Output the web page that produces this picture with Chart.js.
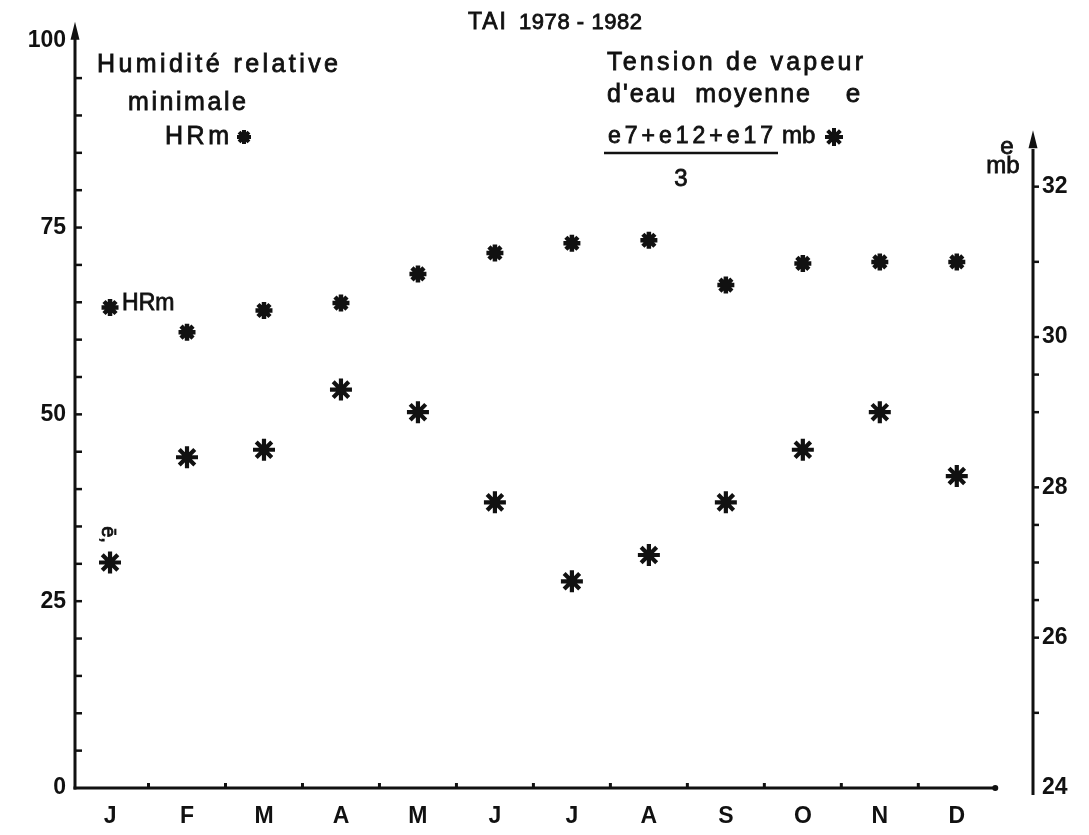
<!DOCTYPE html>
<html>
<head>
<meta charset="utf-8">
<title>TAI 1978-1982</title>
<script src="https://cdn.jsdelivr.net/npm/chart.js@4.4.1/dist/chart.umd.min.js"></script>
<style>
  html, body { margin: 0; background: #fff; }
  canvas { display: block; }
</style>
</head>
<body>
<canvas id="chart" width="1089" height="835"></canvas>
<script>
// valeurs (TAI 1978-1982)
const months = ['J', 'F', 'M', 'A', 'M', 'J', 'J', 'A', 'S', 'O', 'N', 'D'];
const hrMin = [64.3, 61.0, 63.9, 64.9, 68.8, 71.6, 72.9, 73.3, 67.3, 70.2, 70.4, 70.4];
const vapour = [27.0, 28.4, 28.5, 29.3, 29.0, 27.8, 26.75, 27.1, 27.8, 28.5, 29.0, 28.15];

const hrTicks = [0, 25, 50, 75, 100];
const hrMinorTicks = [5, 10, 15, 20, 25, 30, 35, 40, 45, 50, 55, 60, 65, 70, 75, 80, 85, 90, 95];
const eTicks = [24, 26, 28, 30, 32];
const eMinorTicks = [25, 26, 26.5, 27, 27.5, 28, 29, 29.5, 30, 31, 32];

const ink = '#111';
const labelFont = { family: '"Liberation Sans", Arial, sans-serif', size: 23, weight: 'bold' };

// texte un peu espacé, comme sur l'original
function fitText(ctx, str, x0, x1, base, size) {
    ctx.font = size + 'px "Liberation Sans", Arial, sans-serif';
    ctx.letterSpacing = '0px';
    const w = ctx.measureText(str).width;
    const sp = str.length > 1 ? (x1 - x0 - w) / (str.length - 1) : 0;
    ctx.letterSpacing = Math.max(0, sp) + 'px';
    ctx.textAlign = 'left';
    ctx.textBaseline = 'alphabetic';
    ctx.fillText(str, x0, base);
    ctx.lineWidth = 0.8;
    ctx.strokeText(str, x0, base);
    ctx.letterSpacing = '0px';
}

function centerText(ctx, str, cx, base, size) {
    ctx.font = size + 'px "Liberation Sans", Arial, sans-serif';
    ctx.textAlign = 'center';
    ctx.textBaseline = 'alphabetic';
    ctx.fillText(str, cx, base);
    ctx.lineWidth = 0.8;
    ctx.strokeText(str, cx, base);
}

function line(ctx, x0, y0, x1, y1, w) {
    ctx.lineWidth = w;
    ctx.beginPath();
    ctx.moveTo(x0, y0);
    ctx.lineTo(x1, y1);
    ctx.stroke();
}

function arrowUp(ctx, x, tip) {
    ctx.beginPath();
    ctx.moveTo(x, tip);
    ctx.lineTo(x - 4.5, tip + 18);
    ctx.lineTo(x + 4.5, tip + 18);
    ctx.closePath();
    ctx.fill();
}

function asterisk(ctx, x, y, r, w) {
    ctx.lineWidth = w;
    Chart.helpers.drawPoint(ctx, { pointStyle: 'star', radius: r, borderWidth: w, rotation: 0 }, x, y);
}

// axes dessinés à la main (flèches, petites graduations)
const handAxes = {
    id: 'handAxes',
    beforeDatasetsDraw(chart) {
        const { ctx, chartArea, scales: { x, y, y2 } } = chart;
        ctx.save();
        ctx.strokeStyle = ink;
        ctx.fillStyle = ink;

        // axe gauche HR
        const lx = chartArea.left;
        line(ctx, lx, y.getPixelForValue(0) + 1.5, lx, y.getPixelForValue(100) - 6, 3);
        arrowUp(ctx, lx, y.getPixelForValue(100) - 19);
        hrMinorTicks.forEach(v => {
            const py = y.getPixelForValue(v);
            line(ctx, lx, py, lx + 7, py, 2.5);
        });

        // axe des mois
        const by = y.getPixelForValue(0);
        const xEnd = x.getPixelForValue(11.5);
        line(ctx, lx - 1.5, by, xEnd, by, 3);
        ctx.beginPath();
        ctx.arc(xEnd, by, 3, 0, Math.PI * 2);
        ctx.fill();
        months.slice(1).forEach((m, i) => {
            const px = x.getPixelForValue(i + 0.5);
            line(ctx, px, by, px, by - 5, 3);
        });

        // axe droit e (mb)
        const rx = chartArea.right;
        line(ctx, rx, y2.getPixelForValue(24) + 7, rx, y2.getPixelForValue(32.5), 3);
        arrowUp(ctx, rx, y2.getPixelForValue(32.75));
        eMinorTicks.forEach(v => {
            const py = y2.getPixelForValue(v);
            line(ctx, rx, py, rx + 6, py, 2.5);
        });
        ctx.restore();
    },
    afterDraw(chart) {
        const { ctx, scales: { x, y, y2 } } = chart;
        ctx.save();
        ctx.fillStyle = ink;
        ctx.strokeStyle = ink;

        // titre
        fitText(ctx, 'TAI', 468, 506, 29, 23);
        fitText(ctx, '1978 - 1982', 519, 642, 29, 22);

        // légende gauche
        fitText(ctx, 'Humidité relative', 97, 338, 72, 25);
        fitText(ctx, 'minimale', 128, 246, 110, 25);
        fitText(ctx, 'HRm', 165, 229, 144, 25);
        asterisk(ctx, 244, 137, 7, 4);

        // légende droite
        fitText(ctx, 'Tension de vapeur', 607, 863, 70, 25);
        fitText(ctx, "d'eau  moyenne", 607, 810, 102, 25);
        centerText(ctx, 'e', 853, 102, 26);
        fitText(ctx, 'e7+e12+e17', 608, 773, 143, 23);
        fitText(ctx, 'mb', 782, 813, 143, 24);
        asterisk(ctx, 834, 137, 9, 4);
        ctx.strokeStyle = ink;
        line(ctx, 604, 153, 778, 153, 2.5);
        centerText(ctx, '3', 681, 186, 24);

        // unité de l'axe droit
        centerText(ctx, 'e', 1007, 154, 24);
        centerText(ctx, 'mb', 1003, 173, 24);

        // étiquettes près des premiers points
        const px0 = x.getPixelForValue(0);
        fitText(ctx, 'HRm', px0 + 12, px0 + 60, y.getPixelForValue(hrMin[0]) + 2, 23);
        ctx.save();
        ctx.translate(px0 - 1, y2.getPixelForValue(vapour[0]) - 28);
        ctx.rotate(Math.PI / 2);
        centerText(ctx, 'ē,', 0, 7, 20);
        ctx.restore();
        ctx.restore();
    }
};

const hrPoints = hrMin.map((v, i) => ({ x: i, y: v }));
const ePoints = vapour.map((v, i) => ({ x: i, y: v }));

new Chart(document.getElementById('chart'), {
    type: 'scatter',
    data: {
        datasets: [
            {
                label: 'HRm',
                data: hrPoints,
                yAxisID: 'y',
                pointStyle: 'star',
                pointRadius: 8.5,
                pointBorderWidth: 4.5,
                borderColor: ink,
                backgroundColor: ink
            },
            {
                label: 'e',
                data: ePoints,
                yAxisID: 'y2',
                pointStyle: 'star',
                pointRadius: 11,
                pointBorderWidth: 4.2,
                borderColor: ink,
                backgroundColor: ink
            }
        ]
    },
    options: {
        responsive: false,
        animation: false,
        devicePixelRatio: 1,
        layout: { padding: { top: 14, left: 0, right: 0, bottom: 0 } },
        plugins: {
            legend: { display: false },
            tooltip: { enabled: false }
        },
        scales: {
            x: {
                type: 'linear',
                min: -0.455,
                max: 11.99,
                grid: { display: false, drawTicks: false },
                border: { display: false },
                afterBuildTicks: s => { s.ticks = months.map((m, i) => ({ value: i })); },
                afterFit: s => { s.height = 47; },
                ticks: {
                    autoSkip: false,
                    maxRotation: 0,
                    padding: 15,
                    color: ink,
                    font: labelFont,
                    callback: v => months[v]
                }
            },
            y: {
                type: 'linear',
                position: 'left',
                min: 0,
                max: 102.4,
                grid: { display: false, drawTicks: false },
                border: { display: false },
                afterBuildTicks: s => { s.ticks = hrTicks.map(v => ({ value: v })); },
                afterFit: s => { s.width = 75; },
                ticks: { padding: 9, color: ink, font: labelFont }
            },
            y2: {
                type: 'linear',
                position: 'right',
                min: 24,
                max: 34.18,
                grid: { display: false, drawTicks: false },
                border: { display: false },
                afterBuildTicks: s => { s.ticks = eTicks.map(v => ({ value: v })); },
                afterFit: s => { s.width = 56; },
                ticks: { padding: 9, color: ink, font: labelFont }
            }
        }
    },
    plugins: [handAxes]
});
</script>
</body>
</html>
